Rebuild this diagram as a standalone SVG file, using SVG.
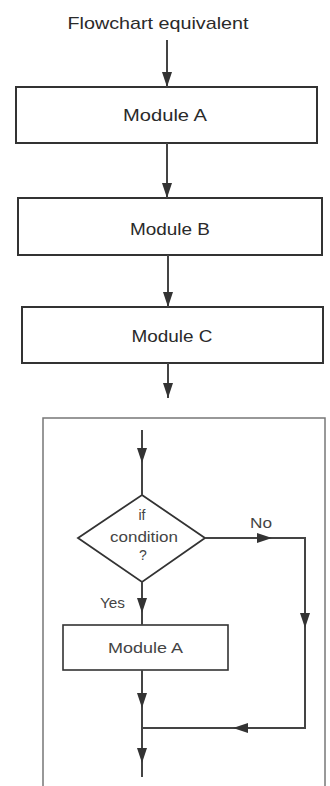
<svg xmlns="http://www.w3.org/2000/svg" width="330" height="786" viewBox="0 0 330 786">
<style>
.box{fill:#fff;stroke:#333;stroke-width:2}
.frame{fill:none;stroke:#777;stroke-width:1.5}
.ln{fill:none;stroke:#444;stroke-width:2}
.t{font-family:"Liberation Sans",Arial,sans-serif;fill:#2a2a2a;text-anchor:middle}
.s{font-family:"Liberation Sans",Arial,sans-serif;fill:#444;text-anchor:middle}
</style>
<defs>
<marker id="ah" viewBox="0 0 15 10" markerWidth="15" markerHeight="10" refX="15" refY="5" orient="auto" markerUnits="userSpaceOnUse">
<path d="M0,0 L15,5 L0,10 z" fill="#333"/>
</marker>
</defs>
<rect width="330" height="786" fill="#fff"/>
<text class="t" x="158" y="29" font-size="17" textLength="181" lengthAdjust="spacingAndGlyphs">Flowchart equivalent</text>
<g id="frame"><rect class="frame" x="43" y="418" width="282" height="400"/></g>
<g id="moduleA"><rect class="box" x="16" y="87" width="301" height="56"/><text class="t" x="165" y="121" font-size="17" textLength="84" lengthAdjust="spacingAndGlyphs">Module A</text></g>
<g id="moduleB"><rect class="box" x="18" y="198" width="304" height="57"/><text class="t" x="170" y="235" font-size="17" textLength="80" lengthAdjust="spacingAndGlyphs">Module B</text></g>
<g id="moduleC"><rect class="box" x="22" y="307" width="301" height="56"/><text class="t" x="172" y="342" font-size="17" textLength="81" lengthAdjust="spacingAndGlyphs">Module C</text></g>
<g id="condition"><polygon class="box" points="142,495 205,538 142,582 78,538" style="stroke-width:1.8"/>
<text class="s" x="142" y="520" font-size="14">if</text>
<text class="s" x="144" y="542" font-size="14.5" textLength="68" lengthAdjust="spacingAndGlyphs">condition</text>
<text class="s" x="143" y="560" font-size="14">?</text></g>
<g id="moduleA2"><rect class="box" x="63" y="625" width="165" height="45" style="stroke-width:1.6"/><text class="s" x="145.5" y="653" font-size="15" textLength="75" lengthAdjust="spacingAndGlyphs">Module A</text></g>
<g id="connectors">
<path class="ln" d="M167,40 V87" marker-end="url(#ah)"/>
<path class="ln" d="M167,143 V198" marker-end="url(#ah)"/>
<path class="ln" d="M168,255 V307" marker-end="url(#ah)"/>
<path class="ln" d="M168,363 V398" marker-end="url(#ah)"/>
<path class="ln" d="M142,430 V463" marker-end="url(#ah)"/>
<path class="ln" d="M142,463 V495"/>
<path class="ln" d="M205,538 H272" marker-end="url(#ah)"/>
<path class="ln" d="M272,538 H305 V628" marker-end="url(#ah)"/>
<path class="ln" d="M305,628 V728 H233" marker-end="url(#ah)"/>
<path class="ln" d="M233,728 H142"/>
<path class="ln" d="M142,582 V613" marker-end="url(#ah)"/>
<path class="ln" d="M142,613 V625"/>
<path class="ln" d="M142,670 V708" marker-end="url(#ah)"/>
<path class="ln" d="M142,708 V763" marker-end="url(#ah)"/>
<path class="ln" d="M142,763 V777"/>
<text class="s" x="261" y="528" font-size="14" textLength="22" lengthAdjust="spacingAndGlyphs">No</text>
<text class="s" x="112.5" y="608" font-size="14" textLength="25" lengthAdjust="spacingAndGlyphs">Yes</text>
</g>
</svg>
